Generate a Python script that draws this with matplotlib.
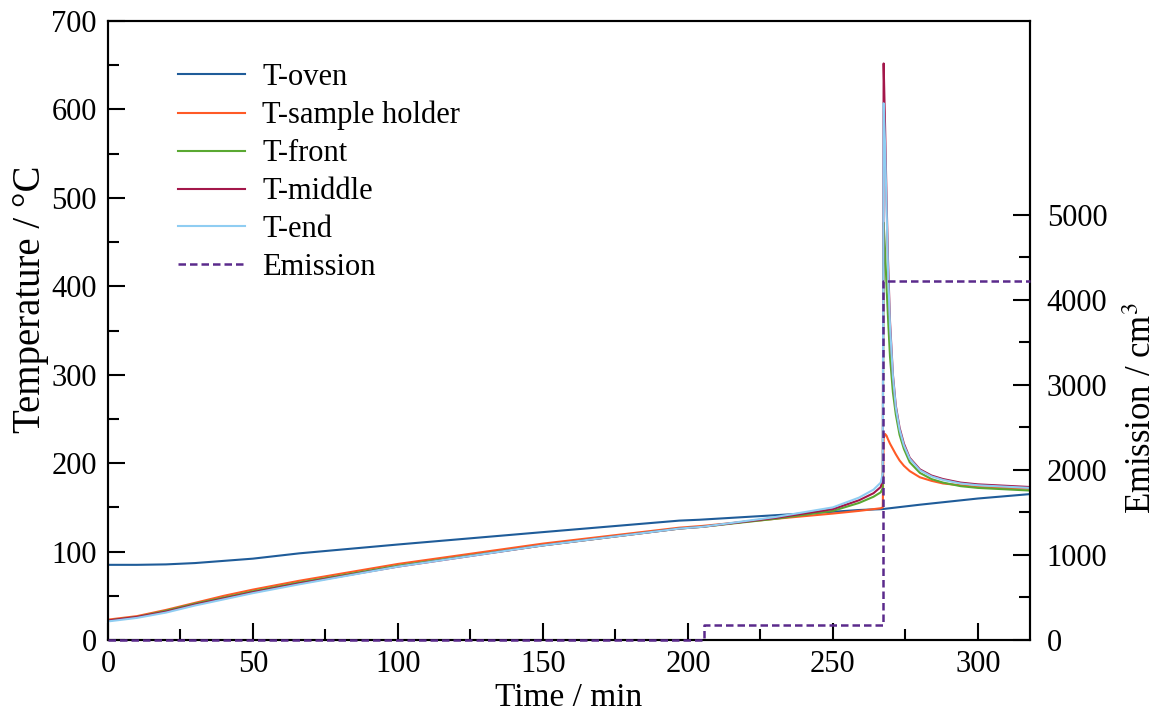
import matplotlib.pyplot as plt
from matplotlib.ticker import MultipleLocator, FixedLocator

plt.rcParams['font.family'] = ['Liberation Serif', 'DejaVu Serif']
plt.rcParams['mathtext.fontset'] = 'stix'

# oven thermocouple
oven_t = [0, 10, 20, 30, 50, 66, 100, 150, 197, 204, 250, 259, 267, 280, 300, 318]
oven = [85, 85, 85.5, 87, 92, 98, 108, 122, 135, 136, 145, 147, 148, 153, 160, 165]

# sample thermocouples share one time base
t = [0, 10, 20, 30, 40, 50, 66, 100, 150, 197, 205, 230, 250, 259, 264, 266.5,
     267.2, 267.5, 268, 268.5, 269, 269.7, 270.7, 271.7, 273, 274.5, 276.5,
     280, 284, 288, 294, 300, 318]
holder = [23, 27, 34, 42, 50, 57, 67, 86, 109, 127, 129, 137, 143, 146, 148, 149,
          150, 228, 233, 231, 227, 222, 216, 210, 203, 197, 191,
          184, 180, 177, 175, 173, 171]
front = [22, 26, 33, 41, 48, 55, 65, 84, 107, 126, 128, 137, 146, 155, 162, 167,
         172, 472, 440, 400, 365, 320, 280, 255, 232, 216, 201,
         189, 182, 178, 174, 172, 169]
middle = [22, 26, 32, 40, 47, 54, 64, 83, 107, 126, 128, 138, 148, 158, 166, 173,
          182, 652, 580, 500, 430, 360, 300, 265, 240, 222, 206,
          193, 186, 182, 178, 176, 173]
end = [21, 25, 31, 39, 46, 53, 63, 83, 107, 126, 128, 139, 150, 161, 170, 178,
       188, 607, 560, 490, 420, 355, 298, 263, 238, 220, 205,
       192, 185, 181, 177, 175, 172]

# emission (steps)
em_t = [0, 205.5, 267.3, 318]
emission = [0, 176, 4220, 4220]

fig = plt.figure(figsize=(11.57, 7.15), dpi=100)
ax = fig.add_axes([0.0933, 0.1049, 0.797, 0.8657])
ax2 = ax.twinx()

l1, = ax.plot(oven_t, oven, color='#1f5c99', lw=1.5, label='T-oven')
l2, = ax.plot(t, holder, color='#ff5a26', lw=1.5, label='T-sample holder')
l3, = ax.plot(t, front, color='#5aa832', lw=1.5, label='T-front')
l4, = ax.plot(t, middle, color='#a3174a', lw=1.5, label='T-middle')
l5, = ax.plot(t, end, color='#8fcdf2', lw=1.5, label='T-end')
l6, = ax2.plot(em_t, emission, color='#5b2a8c', lw=1.8, dashes=(3, 1.6),
               drawstyle='steps-post', label='Emission', clip_on=False, zorder=3)

ax.set_xlim(0, 318)
ax.set_ylim(0, 700)
ax2.set_ylim(0, 7282)

ax.xaxis.set_major_locator(MultipleLocator(50))
ax.xaxis.set_minor_locator(MultipleLocator(25))
ax.yaxis.set_major_locator(MultipleLocator(100))
ax.yaxis.set_minor_locator(MultipleLocator(50))
ax2.yaxis.set_major_locator(FixedLocator([0, 1000, 2000, 3000, 4000, 5000]))
ax2.yaxis.set_minor_locator(FixedLocator([500, 1500, 2500, 3500, 4500]))

for a in (ax, ax2):
    a.tick_params(which='major', direction='in', length=12, width=1.5, labelsize=22)
    a.tick_params(which='minor', direction='in', length=8, width=1.5)
    for s in a.spines.values():
        s.set_linewidth(1.5)
ax.tick_params(axis='x', pad=7)
ax.tick_params(axis='y', pad=8)
ax2.tick_params(axis='y', pad=12)

ax.set_xlabel('Time / min', fontsize=24, labelpad=3)
ax.set_ylabel('Temperature / °C', fontsize=28)
ax.yaxis.set_label_coords(-0.064, 0.551)
ax2.set_ylabel('Emission / cm$^3$', fontsize=25)
ax2.yaxis.set_label_coords(1.104, 0.375)

ax.legend(handles=[l1, l2, l3, l4, l5, l6], loc='upper left',
          bbox_to_anchor=(0.076, 0.932), frameon=False, fontsize=22,
          borderaxespad=0, borderpad=0,
          handlelength=2.2, handletextpad=0.55, labelspacing=0.29)

fig.savefig('out.png', dpi=100)
